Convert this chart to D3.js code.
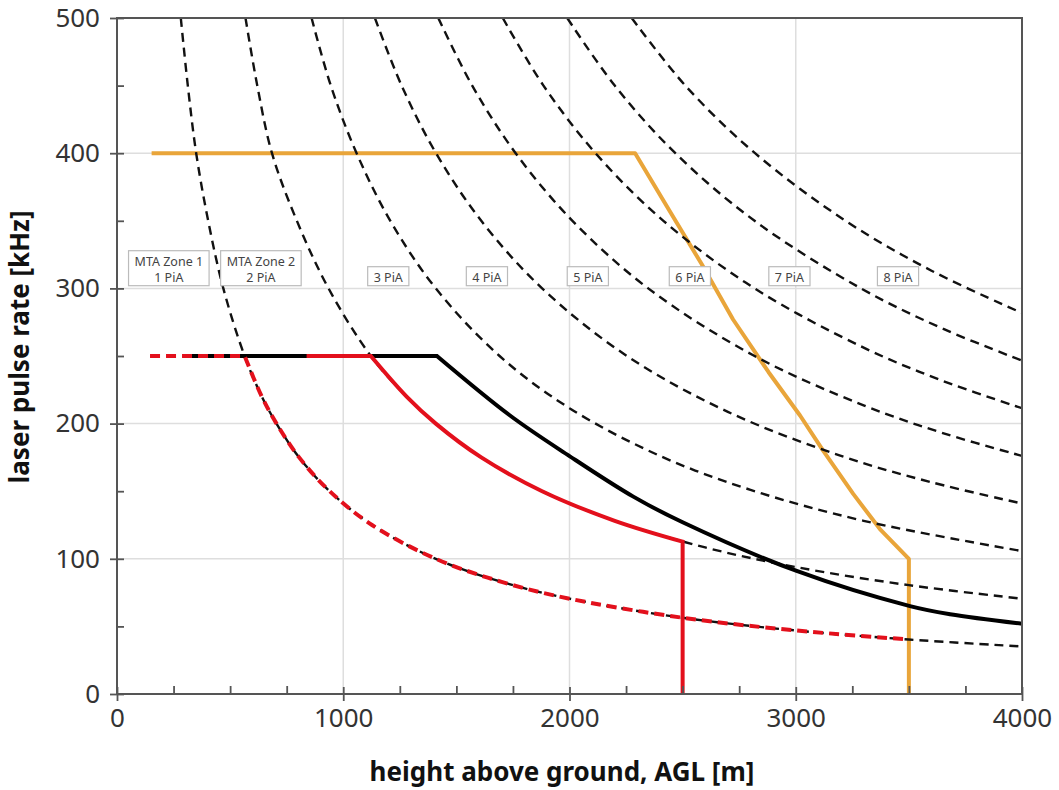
<!DOCTYPE html>
<html>
<head>
<meta charset="utf-8">
<script src="https://cdn.jsdelivr.net/npm/d3@7"></script>
<style>
  body { margin: 0; background: #fff; }
  svg { font-family: "Noto Sans", "Open Sans", sans-serif; }
</style>
</head>
<body>
<div id="chart"></div>
<script>
// axis ticks
const xTicks = [0, 1000, 2000, 3000, 4000];
const xMinorTicks = [250, 500, 750, 1250, 1500, 1750, 2250, 2500, 2750, 3250, 3500, 3750];
const yTicks = [0, 100, 200, 300, 400, 500];
const yMinorTicks = [50, 150, 250, 350, 450];

// MTA zone boundaries (dashed): [height m, rate kHz]
const boundary1 = [[282, 500], [313, 450], [350, 400], [403, 350], [470, 300], [564, 250], [640, 220], [705, 200], [805, 175], [940, 150], [1127, 125], [1409, 100], [1700, 82.9], [2000, 70.5], [2500, 56.4], [3000, 47], [3500, 40.3], [4000, 35.2]];
const boundary2 = [[568, 500], [620, 450], [685, 400], [795, 350], [935, 300], [1122, 250], [1280, 220], [1409, 200], [1610, 175], [1879, 150], [2200, 128.1], [2600, 108.4], [3000, 93.9], [3500, 80.5], [4000, 70.5]];
const boundary3 = [[860, 500], [945, 450], [1059, 400], [1208, 350], [1409, 300], [1691, 250], [2000, 211.4], [2400, 176.1], [2800, 151], [3300, 128.1], [4000, 105.7]];
const boundary4 = [[1140, 500], [1258, 450], [1410, 400], [1610, 350], [1879, 300], [2254, 250], [2700, 208.7], [3200, 176.1], [3600, 156.6], [4000, 140.9]];
const boundary5 = [[1420, 500], [1570, 450], [1762, 400], [2013, 350], [2348, 300], [2818, 250], [3300, 213.5], [3650, 193], [4000, 176.1]];
const boundary6 = [[1705, 500], [1885, 450], [2115, 400], [2415, 350], [2818, 300], [3300, 256.2], [3650, 231.6], [4000, 211.4]];
const boundary7 = [[1990, 500], [2200, 450], [2468, 400], [2818, 350], [3288, 300], [3650, 270.2], [4000, 246.6]];
const boundary8 = [[2275, 500], [2512, 450], [2820, 400], [3220, 350], [3600, 313.1], [4000, 281.8]];

// system envelopes
const orangeLimit = [[153, 400], [2290, 400], [2440, 358], [2584, 318], [2723, 277], [2880, 238], [3019, 206], [3121, 180], [3254, 148], [3372, 122], [3500, 100], [3500, 0]];
const blackFlat = [[292, 250], [1414, 250]];
const blackCurve = [[1414, 250], [1737, 206], [2000, 176], [2282, 146], [2500, 127], [3004, 91], [3505, 65], [3682, 59], [4000, 52]];
const redFlat = [[838, 250], [1122, 250]];
const redCurve = [[1122, 250], [1280, 220], [1409, 200], [1610, 175], [1879, 150], [2200, 128.1], [2500, 112.7]];
const redDrop = [[2500, 112.7], [2500, 0]];
const redDashFlat = [[146, 250], [564, 250]];
const redDashCurve = [[564, 250], [640, 220], [705, 200], [805, 175], [940, 150], [1127, 125], [1409, 100], [1700, 82.9], [2000, 70.5], [2500, 56.4], [3000, 47], [3500, 40.3]];

// zone labels
const zoneLabels = [["MTA Zone 1", "1 PiA"], ["MTA Zone 2", "2 PiA"], ["3 PiA"], ["4 PiA"], ["5 PiA"], ["6 PiA"], ["7 PiA"], ["8 PiA"]];
const zoneLabelX = [229, 636, 1199, 1635, 2081, 2532, 2972, 3452];

const width = 1059, height = 790;
const margin = { top: 18, right: 37, bottom: 96, left: 117 };

const x = d3.scaleLinear().domain([0, 4000]).range([margin.left, width - margin.right]);
const y = d3.scaleLinear().domain([0, 500]).range([height - margin.bottom, margin.top]);

const svg = d3.select("#chart").append("svg")
  .attr("width", width)
  .attr("height", height);

svg.append("defs").append("clipPath").attr("id", "plot")
  .append("rect")
  .attr("x", x(0)).attr("y", y(500))
  .attr("width", x(4000) - x(0)).attr("height", y(0) - y(500));

// grid
svg.append("g").selectAll("line")
  .data(xTicks.slice(1, -1))
  .join("line")
  .attr("x1", d => x(d)).attr("x2", d => x(d))
  .attr("y1", y(0)).attr("y2", y(500))
  .attr("stroke", "#dedede").attr("stroke-width", 1.5);

svg.append("g").selectAll("line")
  .data(yTicks.slice(1, -1))
  .join("line")
  .attr("x1", x(0)).attr("x2", x(4000))
  .attr("y1", d => y(d)).attr("y2", d => y(d))
  .attr("stroke", "#dedede").attr("stroke-width", 1.5);

const plot = svg.append("g").attr("clip-path", "url(#plot)");

const straight = d3.line().x(d => x(d[0])).y(d => y(d[1]));
const smooth = d3.line().x(d => x(d[0])).y(d => y(d[1])).curve(d3.curveCatmullRom.alpha(0.5));
const joined = (flat, curve) => straight(flat) + smooth(curve).replace(/^M/, "L");

plot.append("path")
  .attr("d", straight(orangeLimit))
  .attr("fill", "none")
  .attr("stroke", "#e9a53a")
  .attr("stroke-width", 4)
  .attr("stroke-linejoin", "round");

plot.append("g").selectAll("path")
  .data([boundary1, boundary2, boundary3, boundary4, boundary5, boundary6, boundary7, boundary8])
  .join("path")
  .attr("d", d => smooth(d))
  .attr("fill", "none")
  .attr("stroke", "#111")
  .attr("stroke-width", 2.4)
  .attr("stroke-dasharray", "9,6");

plot.append("path")
  .attr("d", joined(blackFlat, blackCurve))
  .attr("fill", "none")
  .attr("stroke", "#000")
  .attr("stroke-width", 4);

plot.append("path")
  .attr("d", joined(redFlat, redCurve) + straight(redDrop).replace(/^M/, "L"))
  .attr("fill", "none")
  .attr("stroke", "#e3101c")
  .attr("stroke-width", 4);

plot.append("path")
  .attr("d", joined(redDashFlat, redDashCurve))
  .attr("fill", "none")
  .attr("stroke", "#e3101c")
  .attr("stroke-width", 4)
  .attr("stroke-dasharray", "10,6");

// zone label boxes
const labels = svg.append("g")
  .selectAll("g")
  .data(zoneLabels)
  .join("g")
  .attr("transform", (d, i) => `translate(${x(zoneLabelX[i])},${y(302)})`);

labels.each(function (lines) {
  const g = d3.select(this);
  const rect = g.append("rect");
  const text = g.append("text")
    .attr("text-anchor", "middle")
    .attr("font-size", 12.5)
    .attr("fill", "#444");
  lines.forEach((s, j) => {
    text.append("tspan")
      .attr("x", 0)
      .attr("y", -4 - (lines.length - 1 - j) * 16)
      .text(s);
  });
  const w = d3.max(text.selectAll("tspan").nodes(), n => n.getComputedTextLength()) + 12;
  const h = lines.length === 2 ? 35 : 19;
  rect.attr("x", -w / 2).attr("y", -h)
    .attr("width", w).attr("height", h)
    .attr("fill", "#fff")
    .attr("stroke", "#bbb")
    .attr("stroke-width", 1.2);
});

// axes
const xAxis = svg.append("g")
  .attr("transform", `translate(0,${y(0)})`)
  .call(d3.axisBottom(x).tickValues(xTicks).tickSize(7).tickPadding(8).tickFormat(d3.format("d")));
xAxis.selectAll(".tick line").attr("y1", -7);

svg.append("g")
  .attr("transform", `translate(0,${y(0)})`)
  .call(d3.axisBottom(x).tickValues(xMinorTicks).tickSize(-8).tickFormat(""));

const yAxis = svg.append("g")
  .attr("transform", `translate(${x(0)},0)`)
  .call(d3.axisLeft(y).tickValues(yTicks).tickSize(7).tickPadding(10));
yAxis.selectAll(".tick line").attr("x1", 7);

svg.append("g")
  .attr("transform", `translate(${x(0)},0)`)
  .call(d3.axisLeft(y).tickValues(yMinorTicks).tickSize(-7).tickFormat(""));

svg.selectAll(".domain").remove();
svg.selectAll(".tick line").attr("stroke", "#555").attr("stroke-width", 1.8);
svg.selectAll(".tick text")
  .attr("font-family", "Noto Sans")
  .attr("font-size", 26)
  .attr("fill", "#333");

svg.append("rect")
  .attr("x", x(0)).attr("y", y(500))
  .attr("width", x(4000) - x(0)).attr("height", y(0) - y(500))
  .attr("fill", "none")
  .attr("stroke", "#555")
  .attr("stroke-width", 2);

// titles
svg.append("text")
  .attr("x", 562).attr("y", 781)
  .attr("text-anchor", "middle")
  .attr("font-size", 26)
  .attr("font-weight", "bold")
  .attr("fill", "#111")
  .text("height above ground, AGL [m]");

svg.append("text")
  .attr("transform", "translate(29,347) rotate(-90)")
  .attr("text-anchor", "middle")
  .attr("font-size", 26)
  .attr("font-weight", "bold")
  .attr("fill", "#111")
  .text("laser pulse rate [kHz]");
</script>
</body>
</html>
